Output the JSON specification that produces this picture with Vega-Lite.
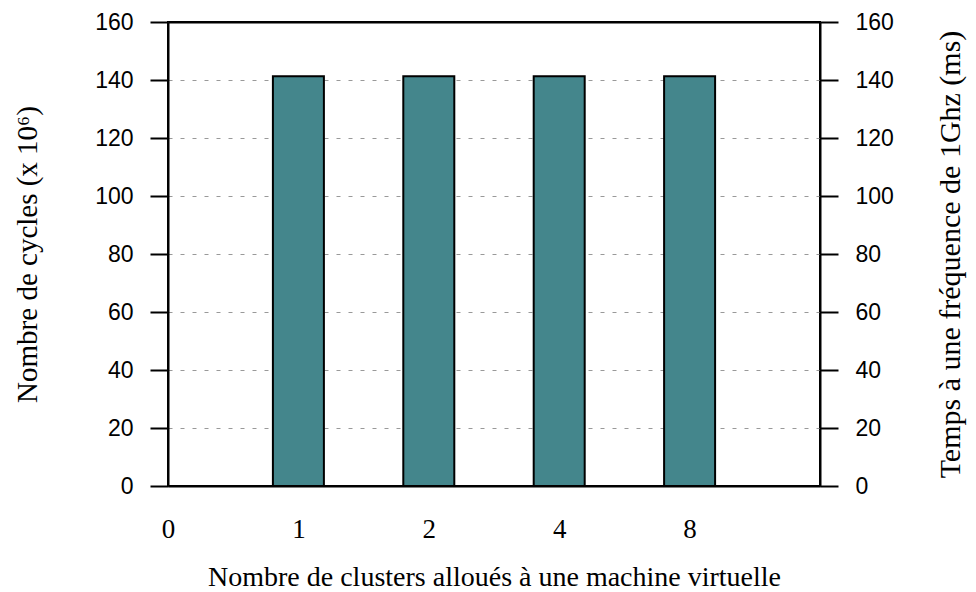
{
  "$schema": "https://vega.github.io/schema/vega-lite/v6.json",
  "autosize": "none",
  "width": 652,
  "height": 464,
  "padding": {"left": 168, "top": 22, "right": 156, "bottom": 106},
  "background": "white",
  "config": {
    "view": {"stroke": "black", "strokeWidth": 2},
    "axis": {"labelColor": "black", "titleColor": "black", "titleFontWeight": "normal"}
  },
  "data": {
    "values": [
      {"clusters": "1", "cycles": 141.3},
      {"clusters": "2", "cycles": 141.3},
      {"clusters": "4", "cycles": 141.3},
      {"clusters": "8", "cycles": 141.3}
    ]
  },
  "layer": [
    {
      "mark": {"type": "bar", "size": 51, "fill": "#44868c", "stroke": "black", "strokeWidth": 2},
      "encoding": {
        "x": {
          "field": "clusters",
          "type": "ordinal",
          "scale": {"type": "point", "padding": 0, "domain": ["0", "1", "2", "4", "8", " "]},
          "axis": {
            "orient": "bottom",
            "values": ["0", "1", "2", "4", "8"],
            "title": "Nombre de clusters alloués à une machine virtuelle",
            "labelAngle": 0,
            "ticks": false,
            "domain": true,
            "domainColor": "black",
            "domainWidth": 2,
            "zindex": 1,
            "grid": false,
            "labelFont": "Liberation Serif",
            "labelFontSize": 27,
            "labelPadding": 30,
            "titleFont": "Liberation Serif",
            "titleFontSize": 28,
            "titlePadding": 21
          }
        },
        "y": {
          "field": "cycles",
          "type": "quantitative",
          "scale": {"domain": [0, 160]},
          "axis": {
            "orient": "left",
            "values": [0, 20, 40, 60, 80, 100, 120, 140, 160],
            "title": "Nombre de cycles (x 10⁶)",
            "domainColor": "black",
            "domainWidth": 2,
            "tickColor": "black",
            "tickWidth": 2,
            "tickSize": 18,
            "labelFont": "Liberation Sans",
            "labelFontSize": 23,
            "labelPadding": 17,
            "titleFont": "Liberation Serif",
            "titleFontSize": 29,
            "titlePadding": 52,
            "grid": true,
            "gridColor": "#999999",
            "gridDash": [4, 8],
            "gridWidth": 1
          }
        }
      }
    },
    {
      "mark": {"type": "bar", "size": 51, "opacity": 0},
      "encoding": {
        "x": {
          "field": "clusters",
          "type": "ordinal",
          "scale": {"type": "point", "padding": 0, "domain": ["0", "1", "2", "4", "8", " "]},
          "axis": {
            "orient": "top",
            "labels": false,
            "ticks": false,
            "title": null,
            "domain": true,
            "domainColor": "black",
            "domainWidth": 2,
            "zindex": 1,
            "grid": false
          }
        },
        "y": {
          "field": "cycles",
          "type": "quantitative",
          "scale": {"domain": [0, 160]},
          "axis": {
            "orient": "right",
            "values": [0, 20, 40, 60, 80, 100, 120, 140, 160],
            "title": "Temps à une fréquence de 1Ghz (ms)",
            "titleAngle": 270,
            "domainColor": "black",
            "domainWidth": 2,
            "tickColor": "black",
            "tickWidth": 2,
            "tickSize": 18,
            "labelFont": "Liberation Sans",
            "labelFontSize": 23,
            "labelPadding": 17,
            "titleFont": "Liberation Serif",
            "titleFontSize": 30,
            "titlePadding": 72,
            "grid": false
          }
        }
      }
    }
  ],
  "resolve": {"scale": {"x": "independent", "y": "independent"}}
}
